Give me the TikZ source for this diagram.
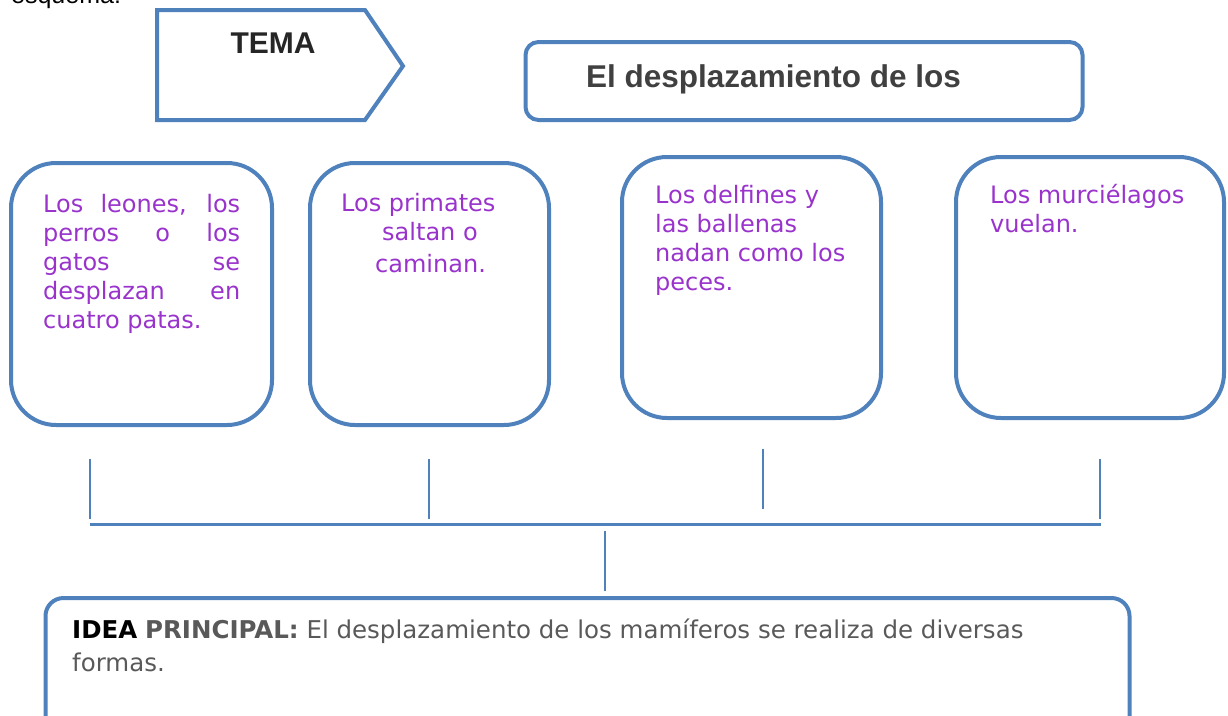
\documentclass[tikz,border=0pt]{standalone}
\usepackage{fontspec}
\newfontfamily\dv{DejaVu Sans}
\newfontfamily\ls{Liberation Sans}
\definecolor{bord}{RGB}{79,129,189}
\definecolor{purp}{RGB}{153,51,204}
\definecolor{titlegray}{RGB}{64,64,64}
\definecolor{idgray}{RGB}{89,89,89}
\begin{document}
\begin{tikzpicture}[x=1pt,y=-1pt,
  card/.style={draw=bord,line width=4pt,rounded corners=45pt,minimum width=#1,inner sep=0pt,outer sep=0pt},
  ptxt/.style={anchor=base west,inner sep=0pt,text=purp,font=\dv\fontsize{24}{29}\selectfont},
  itxt/.style={anchor=base west,inner sep=0pt,font=\dv\fontsize{24.5}{31}\selectfont,text=idgray},
  conn/.style={draw=bord,line width=1.6pt}]
\useasboundingbox (0,0) rectangle (1228,715);
\clip (0,0) rectangle (1228,715);
% cut-off caption at top
\node[anchor=base west,inner sep=0pt,font=\ls\fontsize{25}{30}\selectfont] (esq) at (11,3) {esquema:};
% TEMA pentagon
\draw[bord,line width=4pt,line join=miter] (157,10) -- (365,10) -- (403,66) -- (365,120) -- (157,120) -- cycle;
\node[anchor=base,inner sep=0pt,font=\ls\bfseries\fontsize{30}{36}\selectfont,text=black!85] (tema) at (273,53) {TEMA};
% title box
\node[draw=bord,line width=4pt,rounded corners=13pt,minimum width=557pt,minimum height=78pt,inner sep=0pt] (titlebox) at (804,81) {};
\node[anchor=base west,inner sep=0pt,font=\ls\bfseries\fontsize{31.5}{38}\selectfont,text=titlegray] (title) at (586,87) {El desplazamiento de los};
% cards
\node[card=261pt,minimum height=262pt] (b1) at (141.5,294) {};
\node[card=239pt,minimum height=262pt] (b2) at (429.5,294) {};
\node[card=259pt,minimum height=261pt] (b3) at (751.5,287.5) {};
\node[card=268pt,minimum height=261pt] (b4) at (1090,287.5) {};
% card texts
\node[ptxt] (t1a) at (43,212) {\makebox[197pt][s]{Los leones, los}};
\node[ptxt] (t1b) at (43,241) {\makebox[197pt][s]{perros o los}};
\node[ptxt] (t1c) at (43,270) {\makebox[197pt][s]{gatos se}};
\node[ptxt] (t1d) at (43,299) {\makebox[197pt][s]{desplazan en}};
\node[ptxt] (t1e) at (43,328) {cuatro patas.};
\node[ptxt] (t2a) at (341,211) {Los primates};
\node[ptxt] (t2b) at (382,240) {saltan o};
\node[ptxt] (t2c) at (375,272) {caminan.};
\node[ptxt] (t3a) at (655,203) {Los delfines y};
\node[ptxt] (t3b) at (655,232) {las ballenas};
\node[ptxt] (t3c) at (655,261) {nadan como los};
\node[ptxt] (t3d) at (655,290) {peces.};
\node[ptxt] (t4a) at (990,203) {Los murciélagos};
\node[ptxt] (t4b) at (990,232) {vuelan.};
% connectors
\coordinate (v1t) at (90,459);  \coordinate (v1b) at (90,519);
\coordinate (v2t) at (429,459); \coordinate (v2b) at (429,519);
\coordinate (v3t) at (763,449); \coordinate (v3b) at (763,509);
\coordinate (v4t) at (1100,459); \coordinate (v4b) at (1100,519);
\coordinate (hl) at (90,524.5); \coordinate (hr) at (1101,524.5);
\coordinate (mt) at (605,531); \coordinate (mb) at (605,591);
\draw[conn] (v1t) -- (v1b);
\draw[conn] (v2t) -- (v2b);
\draw[conn] (v3t) -- (v3b);
\draw[conn] (v4t) -- (v4b);
\draw[conn,line width=2.2pt] (hl) -- (hr);
\draw[conn] (mt) -- (mb);
% main idea box
\node[draw=bord,line width=4pt,rounded corners=18pt,minimum width=1084pt,minimum height=150pt,inner sep=0pt] (idea) at (587.5,673) {};
\node[itxt] (idea1) at (72,638) {{\bfseries\color{black}IDEA} {\bfseries PRINCIPAL:} El desplazamiento de los mamíferos se realiza de diversas};
\node[itxt] (idea2) at (72,671) {formas.};
\end{tikzpicture}
\end{document}
